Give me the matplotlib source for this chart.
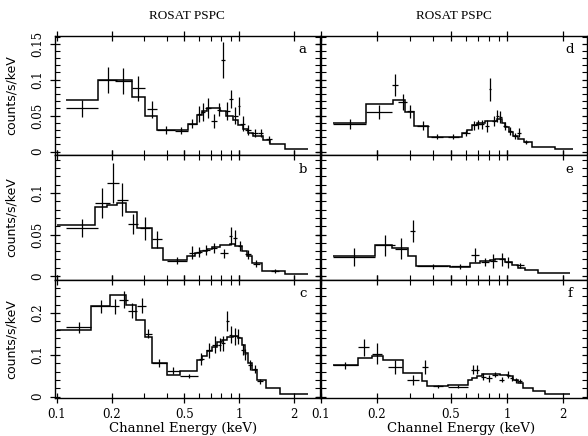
import matplotlib
matplotlib.use("Agg")
import matplotlib.pyplot as plt
import numpy as np
from matplotlib.ticker import FixedLocator, MultipleLocator, NullFormatter

# ---- model histograms (bin edges in keV, counts/s/keV) ----
a_edges = [0.112, 0.168, 0.258, 0.304, 0.354, 0.525, 0.588, 0.63, 0.67, 0.79,
           0.85, 0.93, 0.99, 1.05, 1.12, 1.19, 1.36, 1.48, 1.79, 2.39]
a_model = [0.072, 0.100, 0.076, 0.049, 0.030, 0.039, 0.0505, 0.0565, 0.061, 0.0565,
           0.0496, 0.044, 0.0367, 0.031, 0.0264, 0.0218, 0.0163, 0.0103, 0.0033]

b_edges = [0.100, 0.162, 0.188, 0.214, 0.24, 0.275, 0.332, 0.382, 0.52, 0.573, 0.611,
           0.667, 0.711, 0.787, 0.893, 0.951, 1.04, 1.106, 1.178, 1.34, 1.79, 2.39]
b_model = [0.061, 0.0827, 0.0855, 0.088, 0.0775, 0.0575, 0.0333, 0.0193, 0.024, 0.0273,
           0.030, 0.032, 0.0353, 0.037, 0.039, 0.036, 0.030, 0.024, 0.016, 0.006, 0.002]

c_edges = [0.100, 0.154, 0.196, 0.24, 0.272, 0.304, 0.332, 0.40, 0.474, 0.588, 0.627,
           0.667, 0.711, 0.757, 0.806, 0.859, 0.927, 0.987, 1.04, 1.079, 1.121, 1.179,
           1.256, 1.407, 1.68, 2.39]
c_model = [0.160, 0.216, 0.2436, 0.220, 0.184, 0.143, 0.081, 0.053, 0.061, 0.0888,
           0.0967, 0.1086, 0.120, 0.130, 0.136, 0.143, 0.146, 0.140, 0.1245, 0.105,
           0.081, 0.065, 0.041, 0.021, 0.007]

d_edges = [0.116, 0.175, 0.244, 0.283, 0.316, 0.378, 0.57, 0.607, 0.646, 0.687, 0.76,
           0.88, 0.94, 0.975, 1.02, 1.08, 1.15, 1.24, 1.36, 1.81, 2.25]
d_model = [0.040, 0.066, 0.072, 0.055, 0.036, 0.021, 0.0256, 0.030, 0.0367, 0.040,
           0.043, 0.046, 0.040, 0.034, 0.028, 0.022, 0.018, 0.014, 0.006, 0.0033]

e_edges = [0.116, 0.195, 0.242, 0.295, 0.325, 0.494, 0.633, 0.716, 0.81, 0.862, 0.975,
           1.064, 1.146, 1.25, 1.47, 2.18]
e_model = [0.024, 0.0373, 0.0333, 0.024, 0.012, 0.0113, 0.016, 0.018, 0.019, 0.020,
           0.017, 0.0129, 0.010, 0.0072, 0.0032]

f_edges = [0.116, 0.158, 0.188, 0.215, 0.276, 0.35, 0.37, 0.48, 0.617, 0.648, 0.69,
           0.734, 0.917, 1.013, 1.077, 1.146, 1.219, 1.38, 1.60, 2.18]
f_model = [0.077, 0.093, 0.0967, 0.087, 0.057, 0.037, 0.025, 0.027, 0.041, 0.044,
           0.049, 0.0548, 0.053, 0.049, 0.041, 0.032, 0.0198, 0.0133, 0.0055]

# ---- data points: channel low/high edge, rate, 1 sigma error ----
a_lo = [0.112, 0.168, 0.208, 0.258, 0.312, 0.354, 0.445, 0.525, 0.588, 0.62, 0.65, 0.70,
        0.76, 0.80, 0.835, 0.885, 0.93, 0.985, 1.02, 1.085, 1.16, 1.28, 1.40]
a_hi = [0.168, 0.215, 0.258, 0.304, 0.354, 0.445, 0.525, 0.588, 0.62, 0.65, 0.70, 0.76,
        0.80, 0.835, 0.89, 0.925, 0.985, 1.02, 1.085, 1.16, 1.28, 1.36, 1.52]
a_cts = [0.060, 0.100, 0.098, 0.088, 0.059, 0.030, 0.029, 0.039, 0.052, 0.055, 0.061, 0.043,
         0.058, 0.128, 0.0565, 0.073, 0.050, 0.0635, 0.039, 0.030, 0.026, 0.026, 0.017]
a_err = [0.012, 0.018, 0.018, 0.017, 0.012, 0.005, 0.005, 0.006, 0.011, 0.012, 0.014, 0.010,
         0.009, 0.025, 0.013, 0.012, 0.012, 0.013, 0.010, 0.007, 0.006, 0.006, 0.005]

b_lo = [0.112, 0.162, 0.188, 0.214, 0.245, 0.285, 0.332, 0.40, 0.53, 0.58, 0.63, 0.70,
        0.79, 0.88, 0.93, 0.985, 1.08, 1.19, 1.50]
b_hi = [0.168, 0.195, 0.22, 0.245, 0.28, 0.325, 0.38, 0.52, 0.58, 0.625, 0.69, 0.76,
        0.87, 0.92, 0.97, 1.04, 1.16, 1.31, 1.66]
b_cts = [0.058, 0.088, 0.112, 0.092, 0.0627, 0.0575, 0.044, 0.0185, 0.028, 0.029, 0.031,
         0.034, 0.0273, 0.048, 0.046, 0.036, 0.026, 0.015, 0.006]
b_err = [0.011, 0.018, 0.024, 0.020, 0.012, 0.014, 0.010, 0.004, 0.0076, 0.006, 0.006,
         0.006, 0.005, 0.011, 0.009, 0.006, 0.005, 0.004, 0.002]

c_lo = [0.112, 0.154, 0.196, 0.22, 0.245, 0.275, 0.304, 0.332, 0.40, 0.474, 0.60, 0.66,
        0.71, 0.765, 0.80, 0.845, 0.88, 0.93, 0.97, 1.03, 1.065, 1.12, 1.19, 1.26]
c_hi = [0.154, 0.196, 0.22, 0.245, 0.275, 0.31, 0.332, 0.40, 0.474, 0.595, 0.64, 0.71,
        0.765, 0.80, 0.835, 0.88, 0.92, 0.97, 1.01, 1.065, 1.095, 1.18, 1.26, 1.35]
c_cts = [0.166, 0.216, 0.216, 0.232, 0.206, 0.217, 0.151, 0.081, 0.0626, 0.049, 0.090,
         0.111, 0.1245, 0.1245, 0.128, 0.182, 0.148, 0.144, 0.143, 0.1126, 0.101, 0.077,
         0.0667, 0.037]
c_err = [0.013, 0.016, 0.018, 0.020, 0.018, 0.018, 0.011, 0.009, 0.008, 0.005, 0.0135,
         0.018, 0.020, 0.016, 0.018, 0.024, 0.020, 0.020, 0.018, 0.014, 0.012, 0.012,
         0.010, 0.006]

d_lo = [0.116, 0.175, 0.24, 0.26, 0.29, 0.33, 0.39, 0.48, 0.57, 0.645, 0.68, 0.71, 0.76,
        0.80, 0.83, 0.87, 0.90, 0.95, 1.01, 1.075, 1.13, 1.23]
d_hi = [0.175, 0.24, 0.26, 0.29, 0.316, 0.38, 0.45, 0.55, 0.63, 0.69, 0.72, 0.75, 0.80,
        0.82, 0.87, 0.905, 0.935, 1.0, 1.065, 1.13, 1.19, 1.30]
d_cts = [0.039, 0.055, 0.093, 0.069, 0.056, 0.036, 0.021, 0.021, 0.0256, 0.0367, 0.038,
         0.038, 0.036, 0.0867, 0.0426, 0.0496, 0.048, 0.0355, 0.0288, 0.0218, 0.0264, 0.0135]
d_err = [0.007, 0.0095, 0.0155, 0.011, 0.009, 0.006, 0.004, 0.004, 0.004, 0.006, 0.006,
         0.006, 0.008, 0.016, 0.007, 0.008, 0.008, 0.006, 0.005, 0.004, 0.006, 0.003]

e_lo = [0.116, 0.195, 0.25, 0.30, 0.33, 0.50, 0.64, 0.72, 0.81, 0.90, 0.975, 1.12]
e_hi = [0.195, 0.25, 0.29, 0.322, 0.48, 0.63, 0.71, 0.80, 0.88, 0.975, 1.06, 1.23]
e_cts = [0.0225, 0.037, 0.033, 0.054, 0.012, 0.012, 0.0253, 0.017, 0.018, 0.020, 0.0165, 0.013]
e_err = [0.011, 0.013, 0.013, 0.013, 0.003, 0.003, 0.008, 0.005, 0.008, 0.008, 0.007, 0.003]

f_lo = [0.116, 0.158, 0.188, 0.23, 0.29, 0.35, 0.40, 0.48, 0.64, 0.675, 0.72, 0.775,
        0.835, 0.91, 0.99, 1.04, 1.09, 1.145]
f_hi = [0.158, 0.182, 0.213, 0.272, 0.335, 0.375, 0.455, 0.617, 0.68, 0.71, 0.77, 0.825,
        0.89, 0.965, 1.04, 1.08, 1.145, 1.205]
f_cts = [0.075, 0.118, 0.103, 0.0714, 0.041, 0.071, 0.025, 0.024, 0.065, 0.065, 0.0476,
         0.044, 0.053, 0.041, 0.053, 0.044, 0.039, 0.037]
f_err = [0.009, 0.020, 0.025, 0.017, 0.012, 0.017, 0.003, 0.004, 0.010, 0.010, 0.008,
         0.008, 0.007, 0.006, 0.009, 0.006, 0.005, 0.005]

panel_letters = ["a", "b", "c", "d", "e", "f"]
x_ticks = [0.1, 0.2, 0.5, 1, 2]
x_ticklabels = ["0.1", "0.2", "0.5", "1", "2"]
y_ticks = [[0, 0.05, 0.1, 0.15], [0, 0.05, 0.1], [0, 0.1, 0.2]]
y_ticklabels = [["0", "0.05", "0.1", "0.15"], ["0", "0.05", "0.1"], ["0", "0.1", "0.2"]]

panels = [
    (a_edges, a_model, a_lo, a_hi, a_cts, a_err),
    (b_edges, b_model, b_lo, b_hi, b_cts, b_err),
    (c_edges, c_model, c_lo, c_hi, c_cts, c_err),
    (d_edges, d_model, d_lo, d_hi, d_cts, d_err),
    (e_edges, e_model, e_lo, e_hi, e_cts, e_err),
    (f_edges, f_model, f_lo, f_hi, f_cts, f_err),
]

# layout in pixels of the 588x436 page
W, H = 588, 436
rows = [(36, 155), (155, 280), (280, 398)]
cols = [(55, 320), (321, 587)]
ylims = [(-0.0046, 0.1607), (-0.0048, 0.1458), (-0.003, 0.279)]
yminor = [0.01, 0.01, 0.02]
xlims = [(0.0975, 2.79), (0.1, 2.69)]

serif = "DejaVu Serif"

fig = plt.figure(figsize=(5.88, 4.36), dpi=100)

for k, (edges, model, lo, hi, cts, err) in enumerate(panels):
    col, row = divmod(k, 3)
    x0, x1 = cols[col]
    y0, y1 = rows[row]
    ax = fig.add_axes([x0 / W, 1 - y1 / H, (x1 - x0) / W, (y1 - y0) / H])

    ax.stairs(model, edges, baseline=None, color="k", lw=1.1)
    lo = np.array(lo); hi = np.array(hi)
    mid = np.sqrt(lo * hi)
    ax.errorbar(mid, cts, xerr=[mid - lo, hi - mid], yerr=err, fmt="none",
                ecolor="k", elinewidth=0.9, capsize=0)

    ax.set_xscale("log")
    ax.set_xlim(*xlims[col])
    ax.set_ylim(*ylims[row])

    ax.xaxis.set_major_locator(FixedLocator(x_ticks))
    ax.xaxis.set_minor_locator(FixedLocator([0.3, 0.4, 0.6, 0.7, 0.8, 0.9]))
    ax.xaxis.set_minor_formatter(NullFormatter())
    ax.yaxis.set_major_locator(FixedLocator(y_ticks[row]))
    ax.yaxis.set_minor_locator(MultipleLocator(yminor[row]))

    ax.tick_params(which="major", direction="inout", length=7, width=0.9,
                   top=True, right=True, labelsize=8.5, pad=4)
    ax.tick_params(which="minor", direction="in", length=3.5, width=0.8,
                   top=True, right=True)

    if row == 2:
        ax.set_xticklabels(x_ticklabels, fontfamily=serif)
        ax.set_xlabel("Channel Energy (keV)", fontfamily=serif, fontsize=9.5)
        ax.xaxis.set_label_coords([0.483, 0.526][col], -0.2)
    else:
        ax.set_xticklabels([])

    if col == 0:
        ax.set_yticklabels(y_ticklabels[row], rotation=90, va="center",
                           fontfamily=serif)
        ax.set_ylabel("counts/s/keV", fontfamily="DejaVu Sans", fontsize=9)
        ax.yaxis.set_label_coords(-0.14, 0.5)
    else:
        ax.set_yticklabels([])

    for s in ax.spines.values():
        s.set_linewidth(1.0)

    ax.text(0.935, 0.885, panel_letters[k], transform=ax.transAxes,
            ha="center", va="center", fontfamily=serif, fontsize=9.5)

fig.text(187 / W, 1 - 16 / H, "ROSAT PSPC", ha="center", va="center",
         fontfamily="Liberation Serif", fontsize=9.5)
fig.text(454 / W, 1 - 16 / H, "ROSAT PSPC", ha="center", va="center",
         fontfamily="Liberation Serif", fontsize=9.5)

fig.savefig("out.png", dpi=100, facecolor="white")
